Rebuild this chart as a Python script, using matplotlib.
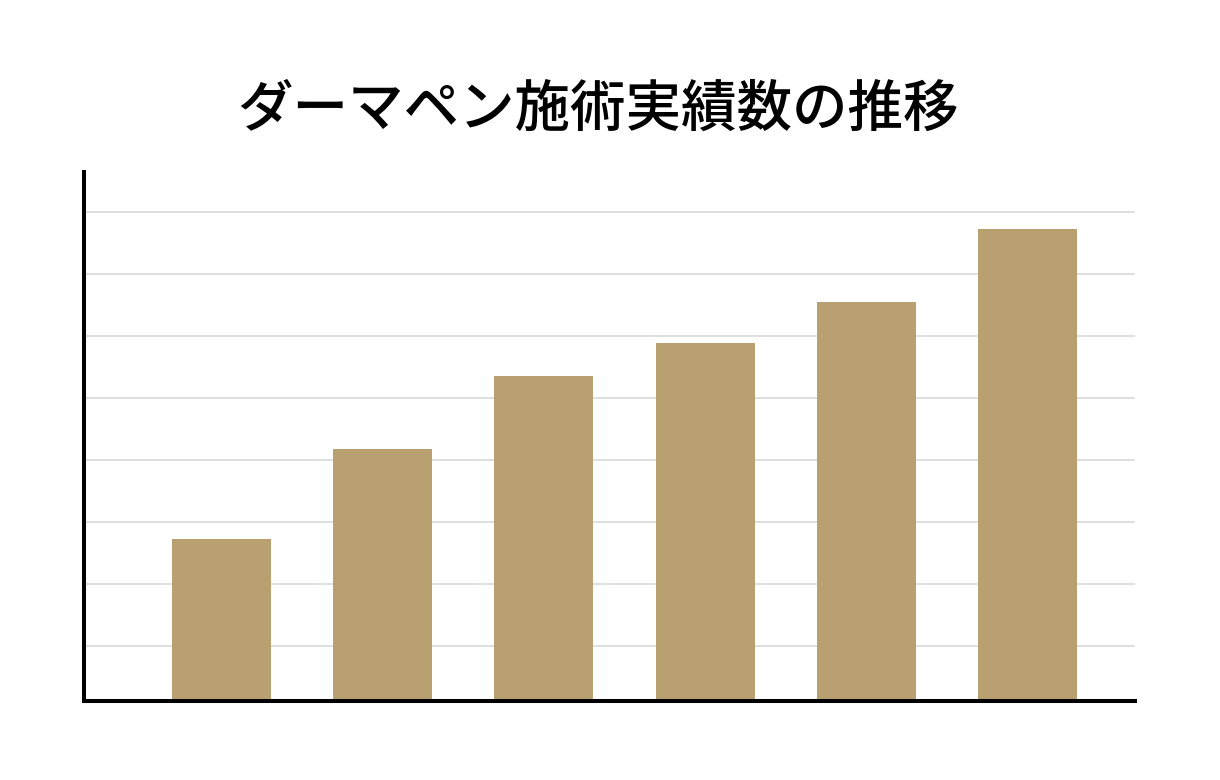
import matplotlib
matplotlib.use("Agg")
import matplotlib.pyplot as plt

plt.rcParams['font.family'] = ['Noto Sans CJK JP', 'DejaVu Sans']

title = "ダーマペン施術実績数の推移"
categories = ["1", "2", "3", "4", "5", "6"]
values = [2.61, 4.06, 5.25, 5.78, 6.43, 7.62]
grid_ticks = [0.887, 1.887, 2.887, 3.887, 4.887, 5.887, 6.887, 7.887]

W, H = 1220, 780
fig = plt.figure(figsize=(W / 100, H / 100), dpi=100)
ax = fig.add_axes([84 / W, (H - 701) / H, (1135 - 84) / W, (701 - 172) / H])

x = list(range(len(categories)))
ax.bar(x, values, width=0.614, color="#B9A071", zorder=3)

ax.set_xlim(-0.853, 5.667)
ax.set_ylim(0, 529 / 62)
ax.set_yticks(grid_ticks)
ax.set_xticks([])
ax.tick_params(axis='y', length=0, labelleft=False)
ax.grid(axis='y', color="#d9d9d9", linewidth=1.2, zorder=0)
ax.set_axisbelow(True)

for s in ["top", "right"]:
    ax.spines[s].set_visible(False)
for s in ["left", "bottom"]:
    ax.spines[s].set_linewidth(2.9)
    ax.spines[s].set_color("black")
    ax.spines[s].set_zorder(4)

fig.text(598 / W, 1 - 110 / H, title, ha="center", va="center",
         fontsize=40, fontweight="medium", color="black")

fig.savefig("out.png", dpi=100, facecolor="white")
